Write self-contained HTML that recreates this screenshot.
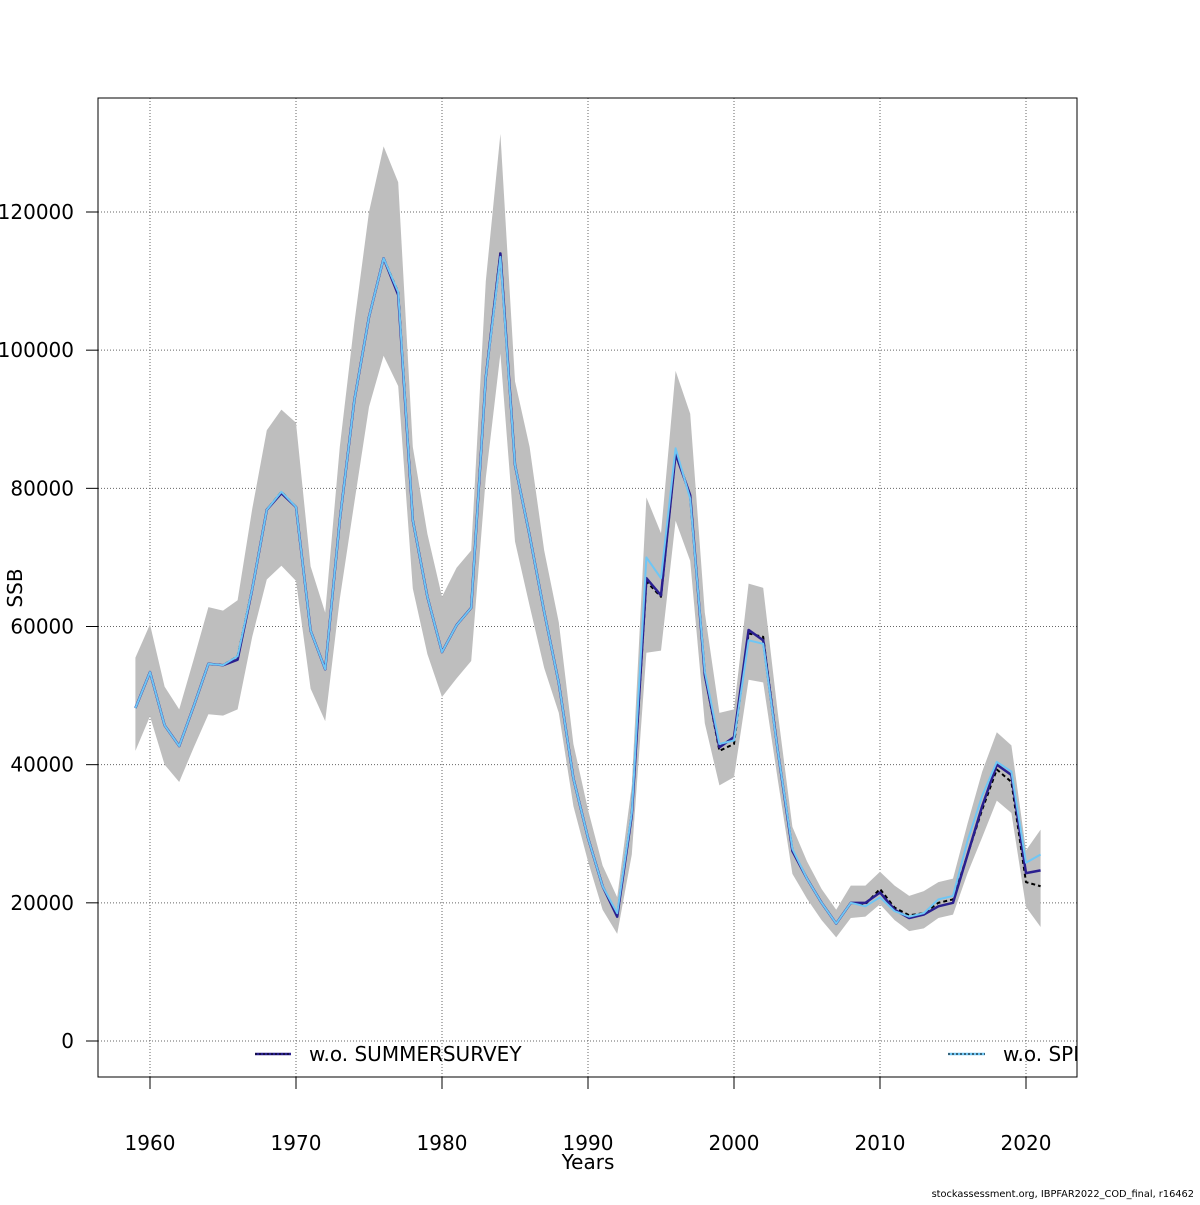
<!DOCTYPE html>
<html><head><meta charset="utf-8"><style>
body{margin:0;background:#fff;}
svg text{font-family:"DejaVu Sans","Liberation Sans",sans-serif;}
</style></head><body>
<svg id="chart" width="1200" height="1200" viewBox="0 0 1200 1200" xmlns="http://www.w3.org/2000/svg">
<defs><clipPath id="plotclip"><rect x="98" y="98" width="979" height="979"/></clipPath></defs>
<rect x="0" y="0" width="1200" height="1200" fill="#fff"/>
<g id="grid"></g>
<g id="band" clip-path="url(#plotclip)"></g>
<g id="lines" clip-path="url(#plotclip)"></g>
<rect x="98" y="98" width="979" height="979" fill="none" stroke="#000" stroke-width="1"/>
<g id="axes"></g>
<text x="588" y="1169" font-size="20" text-anchor="middle">Years</text>
<text x="22" y="588" font-size="20" text-anchor="middle" transform="rotate(-90 22 588)">SSB</text>
<g clip-path="url(#plotclip)">
  <g>
    <line x1="255" y1="1054" x2="291" y2="1054" stroke="#2a1f8f" stroke-width="2.5"/>
    <line x1="255" y1="1054" x2="291" y2="1054" stroke="#000" stroke-width="1" stroke-dasharray="2,2"/>
    <text x="309" y="1061" font-size="20">w.o. SUMMERSURVEY</text>
  </g>
  <g>
    <line x1="948" y1="1054" x2="985" y2="1054" stroke="#6ec6f5" stroke-width="2.5"/>
    <line x1="948" y1="1054" x2="985" y2="1054" stroke="#000" stroke-width="1" stroke-dasharray="2,2"/>
    <text x="1003" y="1061" font-size="20">w.o. SPRINGSURVEY</text>
  </g>
</g>
<text x="1194" y="1197" font-size="9.8" text-anchor="end">stockassessment.org, IBPFAR2022_COD_final, r16462</text>
</svg>
<script>
const years = [1959,1960,1961,1962,1963,1964,1965,1966,1967,1968,1969,1970,1971,1972,1973,1974,1975,1976,1977,1978,1979,1980,1981,1982,1983,1984,1985,1986,1987,1988,1989,1990,1991,1992,1993,1994,1995,1996,1997,1998,1999,2000,2001,2002,2003,2004,2005,2006,2007,2008,2009,2010,2011,2012,2013,2014,2015,2016,2017,2018,2019,2020,2021];
const baseSSB = [48200,53400,45700,42700,48500,54600,54400,55700,65400,76900,79500,77300,59400,53800,75400,92800,104800,113300,108400,75400,64300,56300,60200,62700,96100,114200,83400,73200,62100,51800,38000,29400,22400,18200,32700,66500,64300,85000,79000,53000,42000,43000,59000,58500,42000,27500,23500,20000,17000,20000,19800,22000,19300,18200,18500,20000,20500,27000,33500,39300,37500,23000,22400];
const summerSSB = [48200,53400,45700,42700,48500,54600,54400,55200,65400,76900,79300,77300,59400,53800,75400,92800,104800,113300,108000,75400,64300,56300,60200,62700,96100,114000,83400,73200,62100,51800,38000,29400,22400,18000,32700,67000,64500,85000,79000,53000,42500,44000,59500,58000,42000,27500,23500,20000,17000,20000,20000,21500,19000,17800,18300,19500,20000,27000,34000,40000,38500,24300,24700];
const springSSB = [48200,53400,45700,42700,48500,54600,54400,55700,65400,76900,79500,77300,59400,53800,75400,92800,104800,113300,108400,75400,64300,56300,60200,62700,96100,113500,83400,73200,62100,51800,38000,29400,22400,18500,33000,70000,67000,85800,78500,53500,43000,43500,58000,57500,42000,27800,23500,20000,17000,20000,19500,20800,18800,18000,18500,20500,21000,29000,35500,40400,39000,25800,27000];
const upperSSB = [55500,60300,51300,48000,55300,62800,62300,63800,77000,88400,91400,89500,68700,62000,86000,104000,120000,129500,124300,86000,73400,64300,68500,71000,110000,131300,95500,86000,71000,60600,43000,33500,25400,20800,37000,78700,73500,97000,90800,62000,47500,48000,66200,65600,47500,31000,26000,22000,19000,22500,22500,24500,22500,21000,21700,23000,23500,31500,39000,44700,42800,27600,30600];
const lowerSSB = [42000,47000,40000,37500,42500,47300,47100,48000,58500,66800,68800,66600,51000,46300,64000,78000,91800,99200,94800,65500,56000,49800,52500,55000,81500,99500,72300,63000,54000,47500,34000,26000,19000,15500,27000,56200,56500,75300,69500,46000,37000,38200,52300,51900,37800,24200,20600,17500,15000,17800,18000,19800,17500,15900,16300,17800,18300,24300,29500,34800,33000,19400,16500];
const xTicks = [1960,1970,1980,1990,2000,2010,2020];
const yTicks = [0,20000,40000,60000,80000,100000,120000];

const NS='http://www.w3.org/2000/svg';
function X(yr){return 150 + (yr-1960)*(876/60);}
function Y(v){return 1041 - v*(829/120000);}
function mk(tag,attrs,parent){const e=document.createElementNS(NS,tag);for(const k in attrs)e.setAttribute(k,attrs[k]);parent.appendChild(e);return e;}

const grid=document.getElementById('grid'), axes=document.getElementById('axes');
xTicks.forEach(t=>{
  const g=mk('line',{x1:X(t),x2:X(t),y1:98,y2:1077,stroke:'#666','stroke-width':1,'stroke-dasharray':'1,2'},grid);
  
  
  const tk=mk('line',{x1:X(t),x2:X(t),y1:1077,y2:1089,stroke:'#000'},axes);
  
  
  const tx=mk('text',{x:X(t),y:1150,'font-size':20,'text-anchor':'middle'},axes);
  tx.textContent=t;
  
  
});
yTicks.forEach(t=>{
  const g=mk('line',{x1:98,x2:1077,y1:Y(t),y2:Y(t),stroke:'#666','stroke-width':1,'stroke-dasharray':'1,2'},grid);
  
  
  const tk=mk('line',{x1:86,x2:98,y1:Y(t),y2:Y(t),stroke:'#000'},axes);
  
  
  const tx=mk('text',{x:74,y:Y(t)+7,'font-size':20,'text-anchor':'end'},axes);
  tx.textContent=t;
  
  
});

const band=document.getElementById('band');
let pts=years.map((y,i)=>X(y)+','+Y(upperSSB[i]));
for(let i=years.length-1;i>=0;i--)pts.push(X(years[i])+','+Y(lowerSSB[i]));
const poly=mk('polygon',{points:pts.join(' '),fill:'#bebebe',stroke:'none'},band);



const lines=document.getElementById('lines');
function series(vals,stroke,w,dash,name){
  const p=mk('polyline',{points:years.map((y,i)=>X(y)+','+Y(vals[i])).join(' '),fill:'none',stroke:stroke,'stroke-width':w,'stroke-linejoin':'round'},lines);
  if(dash)p.setAttribute('stroke-dasharray',dash);
  
  
}
series(baseSSB,'#000',2,'4,3','base-line');
series(summerSSB,'#2a1f8f',2.5,null,'summersurvey-line');
series(springSSB,'#6ec6f5',2,null,'springsurvey-line');
</script>
</body></html>
